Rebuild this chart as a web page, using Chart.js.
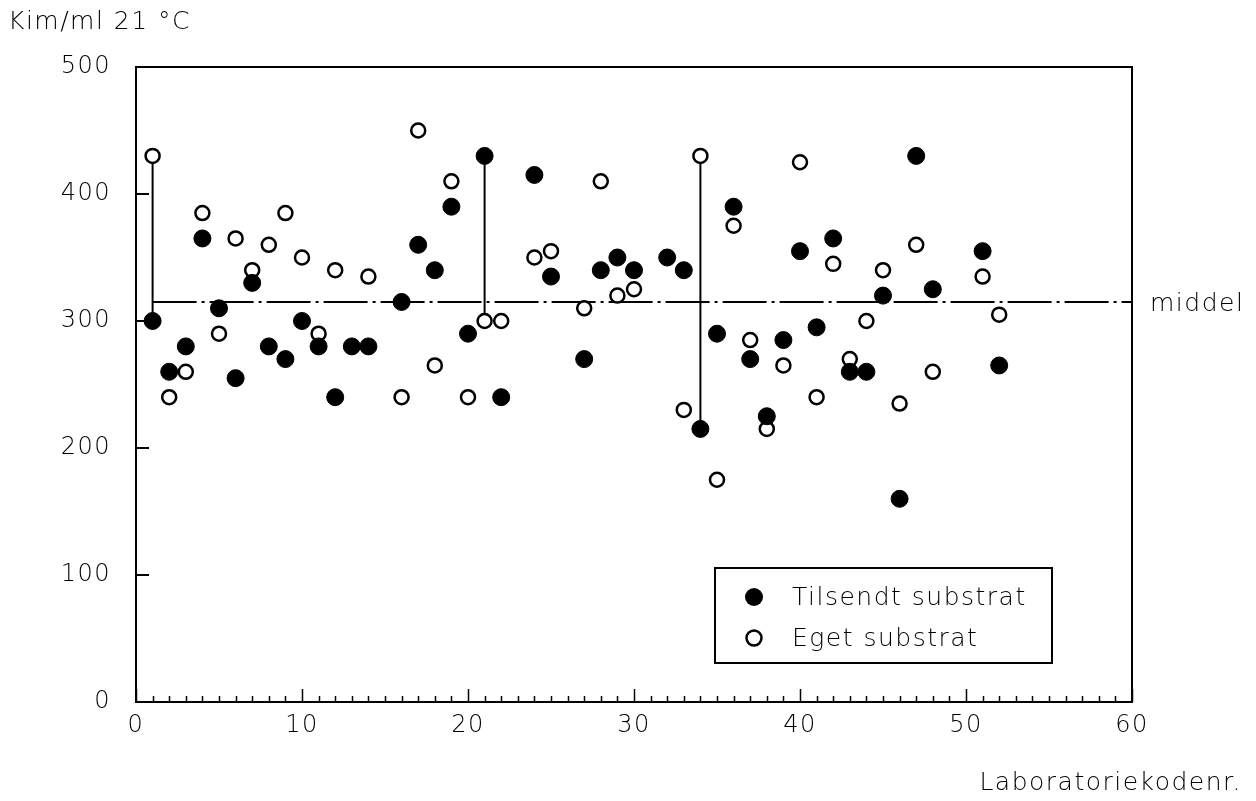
<!DOCTYPE html>
<html>
<head>
<meta charset="utf-8">
<script src="https://cdn.jsdelivr.net/npm/chart.js@4.4.1/dist/chart.umd.min.js"></script>
<style>
  html, body { margin: 0; padding: 0; background: #fff; }
  #wrap { width: 1256px; height: 801px; }
</style>
</head>
<body>
<div id="wrap"><canvas id="c" width="1256" height="801"></canvas></div>
<script>
// Kimtal (Kim/ml ved 21 °C) pr. laboratorium
const labsTilsendt = [1, 2, 3, 4, 5, 6, 7, 8, 9, 10, 11, 12, 13, 14, 16, 17, 18, 19, 20, 21, 22, 24, 25, 27, 28, 29, 30, 32, 33, 34, 35, 36, 37, 38, 39, 40, 41, 42, 43, 44, 45, 46, 47, 48, 51, 52];
const tilsendt     = [300, 260, 280, 365, 310, 255, 330, 280, 270, 300, 280, 240, 280, 280, 315, 360, 340, 390, 290, 430, 240, 415, 335, 270, 340, 350, 340, 350, 340, 215, 290, 390, 270, 225, 285, 355, 295, 365, 260, 260, 320, 160, 430, 325, 355, 265];

const labsEget = [1, 2, 3, 4, 5, 6, 7, 8, 9, 10, 11, 12, 14, 16, 17, 18, 19, 20, 21, 22, 24, 25, 27, 28, 29, 30, 33, 34, 35, 36, 37, 38, 39, 40, 41, 42, 43, 44, 45, 46, 47, 48, 51, 52];
const eget     = [430, 240, 260, 385, 290, 365, 340, 360, 385, 350, 290, 340, 335, 240, 450, 265, 410, 240, 300, 300, 350, 355, 310, 410, 320, 325, 230, 430, 175, 375, 285, 215, 265, 425, 240, 345, 270, 300, 340, 235, 360, 260, 335, 305];

const middel = 315;
const rangeLabs = [1, 21, 34];          // laboratorier med spredningslinje
const xTicks = [0, 10, 20, 30, 40, 50, 60];
const yTicks = [0, 100, 200, 300, 400, 500];

const seriesNames = ['Tilsendt substrat', 'Eget substrat'];
const yTitle = 'Kim/ml 21 °C';
const xTitle = 'Laboratoriekodenr.';
const meanLabel = 'middel';

const FONT = '"DejaVu Sans", "Liberation Sans", sans-serif';
const INK = '#000';

function pts(xs, ys) { return xs.map((x, i) => ({ x: x, y: ys[i] })); }
function valueAt(xs, ys, lab) { return ys[xs.indexOf(lab)]; }

const rangeSets = rangeLabs.map(lab => ({
  type: 'line',
  label: 'range' + lab,
  data: [{ x: lab, y: valueAt(labsEget, eget, lab) }, { x: lab, y: valueAt(labsTilsendt, tilsendt, lab) }],
  borderColor: INK, borderWidth: 2, pointRadius: 0, fill: false, order: 5
}));

const frameAndTicks = {
  id: 'frameAndTicks',
  beforeDraw(chart) {
    const ctx = chart.ctx;
    ctx.save();
    ctx.fillStyle = '#fff';
    ctx.fillRect(0, 0, chart.width, chart.height);
    ctx.restore();
    ctx.letterSpacing = '1.5px';
  },
  afterDraw(chart) {
    const ctx = chart.ctx;
    const a = chart.chartArea;
    const xs = chart.scales.x, ys = chart.scales.y;
    ctx.save();
    ctx.strokeStyle = INK;
    ctx.lineWidth = 2;
    ctx.strokeRect(a.left, a.top, a.right - a.left, a.bottom - a.top);
    // inward ticks along the bottom: every lab number, longer each ten
    ctx.lineWidth = 1.5;
    for (let v = xs.min; v <= xs.max; v++) {
      const px = Math.round(xs.getPixelForValue(v)) + 0.5;
      const len = (v % 10 === 0) ? 13 : 6;
      ctx.beginPath(); ctx.moveTo(px, a.bottom); ctx.lineTo(px, a.bottom - len); ctx.stroke();
    }
    ctx.lineWidth = 2;
    yTicks.forEach(v => {
      const py = Math.round(ys.getPixelForValue(v));
      ctx.beginPath(); ctx.moveTo(a.left, py); ctx.lineTo(a.left + 13, py); ctx.stroke();
    });

    ctx.fillStyle = INK;
    ctx.letterSpacing = '1.5px';
    ctx.font = '200 25px ' + FONT;
    ctx.textBaseline = 'middle';
    ctx.textAlign = 'left';
    ctx.fillText(yTitle, 8, 22);
    ctx.fillText(meanLabel, 1150, ys.getPixelForValue(middel) + 3);
    ctx.textAlign = 'right';
    ctx.fillText(xTitle, 1242, 783);

    // legend box
    ctx.lineWidth = 2;
    ctx.strokeRect(715, 568, 337, 95);
    ctx.beginPath(); ctx.arc(754, 597, 9, 0, Math.PI * 2); ctx.fill();
    ctx.beginPath(); ctx.arc(754, 638, 7.5, 0, Math.PI * 2);
    ctx.fillStyle = '#fff'; ctx.fill();
    ctx.lineWidth = 2.5; ctx.stroke();
    ctx.fillStyle = INK;
    ctx.textAlign = 'left';
    ctx.fillText(seriesNames[0], 792, 598);
    ctx.fillText(seriesNames[1], 792, 639);
    ctx.restore();
  }
};

new Chart(document.getElementById('c'), {
  type: 'scatter',
  data: {
    datasets: [
      {
        label: seriesNames[0],
        data: pts(labsTilsendt, tilsendt),
        pointRadius: 8.5, pointHoverRadius: 8.5,
        backgroundColor: INK, borderColor: INK, borderWidth: 1,
        order: 1
      },
      {
        label: seriesNames[1],
        data: pts(labsEget, eget),
        pointRadius: 7, pointHoverRadius: 7,
        backgroundColor: '#fff', borderColor: INK, borderWidth: 2.5,
        order: 2
      },
      {
        type: 'line',
        label: meanLabel,
        data: [{ x: 1, y: middel }, { x: 60, y: middel }],
        borderColor: INK, borderWidth: 2, borderDash: [44, 5, 3, 5],
        pointRadius: 0, fill: false, order: 6
      },
      ...rangeSets
    ]
  },
  options: {
    responsive: false,
    animation: false,
    events: [],
    layout: { padding: { left: 0, top: 67, right: 124, bottom: 0 } },
    plugins: { legend: { display: false }, tooltip: { enabled: false }, title: { display: false } },
    scales: {
      x: {
        type: 'linear', min: 0, max: 60,
        afterBuildTicks(s) { s.ticks = xTicks.map(v => ({ value: v })); },
        afterFit(s) { s.height = 99; },
        grid: { display: false, drawTicks: false },
        border: { display: false },
        ticks: { color: INK, padding: 9, font: { family: FONT, size: 24, weight: 200 } }
      },
      y: {
        type: 'linear', min: 0, max: 500,
        afterBuildTicks(s) { s.ticks = yTicks.map(v => ({ value: v })); },
        afterFit(s) { s.width = 136; },
        grid: { display: false, drawTicks: false },
        border: { display: false },
        ticks: { color: INK, padding: 25, font: { family: FONT, size: 24, weight: 200 } }
      }
    }
  },
  plugins: [frameAndTicks]
});
</script>
</body>
</html>
